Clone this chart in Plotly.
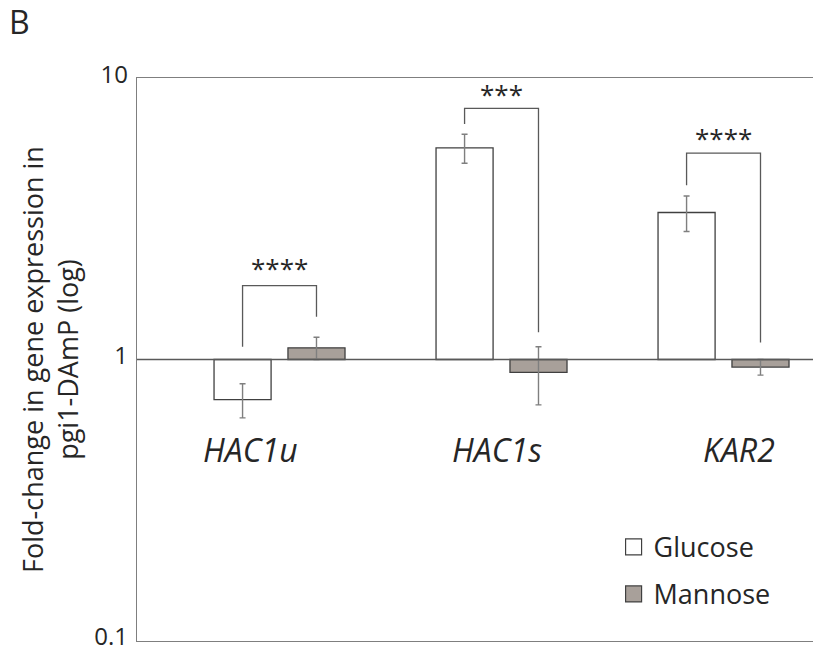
import math
import plotly.graph_objects as go

genes = ["HAC1u", "HAC1s", "KAR2"]
glucose = [0.72, 5.65, 3.33]
glucose_err = [0.10, 0.67, 0.48]
mannose = [1.10, 0.90, 0.94]
mannose_err = [0.10, 0.21, 0.06]
baseline = 1.0

# significance brackets: [glucose-side end, bracket top, mannose-side end]
bracket_left = [1.11, 6.87, 4.16]
bracket_top = [1.83, 7.81, 5.41]
bracket_right = [1.42, 1.25, 1.15]
stars = ["****", "***", "****"]
star_y = [2.19, 9.07, 6.33]

yticks = [0.1, 1, 10]
yticklabels = ["0.1", "1", "10"]

FONT = "Open Sans"
TXT = "#262626"
LINE = "#7f7f7f"
OUT = "#404040"
BW = 0.257
G_OFF = -0.295
M_OFF = 0.038

idx = list(range(len(genes)))

fig = go.Figure()
fig.add_trace(go.Bar(
    x=idx, y=[v - baseline for v in glucose], base=baseline,
    width=BW, offset=G_OFF, name="Glucose", showlegend=False,
    marker=dict(color="white", line=dict(color=OUT, width=1.3)),
    error_y=dict(type="data", array=glucose_err, color=LINE, thickness=1.4, width=3),
    customdata=genes, hovertemplate="%{customdata}<extra>Glucose</extra>",
))
fig.add_trace(go.Bar(
    x=idx, y=[v - baseline for v in mannose], base=baseline,
    width=BW, offset=M_OFF, name="Mannose", showlegend=False,
    marker=dict(color="#a8a09a", line=dict(color=OUT, width=1.3)),
    error_y=dict(type="data", array=mannose_err, color=LINE, thickness=1.4, width=3),
    customdata=genes, hovertemplate="%{customdata}<extra>Mannose</extra>",
))

gc = G_OFF + BW / 2
mc = M_OFF + BW / 2
for i in idx:
    fig.add_trace(go.Scatter(
        x=[i + gc, i + gc, i + mc, i + mc],
        y=[bracket_left[i], bracket_top[i], bracket_top[i], bracket_right[i]],
        mode="lines", line=dict(color="#595959", width=1.3),
        showlegend=False, hoverinfo="skip",
    ))
    fig.add_annotation(x=i, y=math.log10(star_y[i]), xref="x", yref="y", text=stars[i],
                       showarrow=False, xanchor="center", yanchor="middle", yshift=-4,
                       font=dict(family=FONT, size=26, color=TXT))

# legend entries
fig.add_trace(go.Scatter(x=[None], y=[None], mode="markers", name="Glucose",
                         legendgroup="g",
                         marker=dict(symbol="square", size=16, color="white",
                                     line=dict(color=OUT, width=1.2))))
fig.add_trace(go.Scatter(x=[None], y=[None], mode="markers", name="Mannose",
                         legendgroup="m",
                         marker=dict(symbol="square", size=16, color="#a8a09a",
                                     line=dict(color=OUT, width=1.2))))

# category labels
label_x = [0.1686, 0.5325, 0.8905]
for i, g in enumerate(genes):
    fig.add_annotation(x=label_x[i], y=0.341, xref="paper", yref="paper",
                       text=f"<i>{g}</i>", showarrow=False,
                       xanchor="center", yanchor="middle",
                       font=dict(family=FONT, size=32, color=TXT))

fig.add_annotation(x=-0.192, y=1.101, xref="paper", yref="paper", text="B",
                   showarrow=False, xanchor="left", yanchor="middle",
                   font=dict(family=FONT, size=32, color=TXT))

# horizontal reference line at fold-change = 1
fig.add_shape(type="line", xref="paper", yref="y", x0=0, x1=1, y0=baseline, y1=baseline,
              line=dict(color="#595959", width=1.3))

fig.update_layout(
    width=813, height=648,
    margin=dict(l=137, r=0, t=78, b=7, autoexpand=False),
    paper_bgcolor="white", plot_bgcolor="white",
    font=dict(family=FONT, color=TXT),
    showlegend=True,
    legend=dict(x=0.705, y=0.21, xanchor="left", yanchor="top",
                font=dict(family=FONT, size=27, color=TXT),
                tracegroupgap=9, bgcolor="rgba(0,0,0,0)", itemclick=False),
    xaxis=dict(range=[-0.642, 2.403], showticklabels=False, ticks="",
               showgrid=False, zeroline=False, showline=True, mirror=True,
               linecolor=LINE, linewidth=1.3, automargin=False),
    yaxis=dict(type="log", range=[-1.0004, 1.0004], tickvals=yticks, ticktext=yticklabels,
               showgrid=False, ticks="", showline=True, linecolor=LINE, linewidth=1.3,
               automargin=False,
               ticklabelstandoff=3, ticklabelshift=-4, ticklabeloverflow="allow",
               tickfont=dict(family=FONT, size=24, color=TXT),
               title=dict(text="Fold-change in gene expression in<br>pgi1-DAmP (log)",
                          font=dict(family=FONT, size=27, color=TXT), standoff=7)),
)

fig.write_html("out.html")
